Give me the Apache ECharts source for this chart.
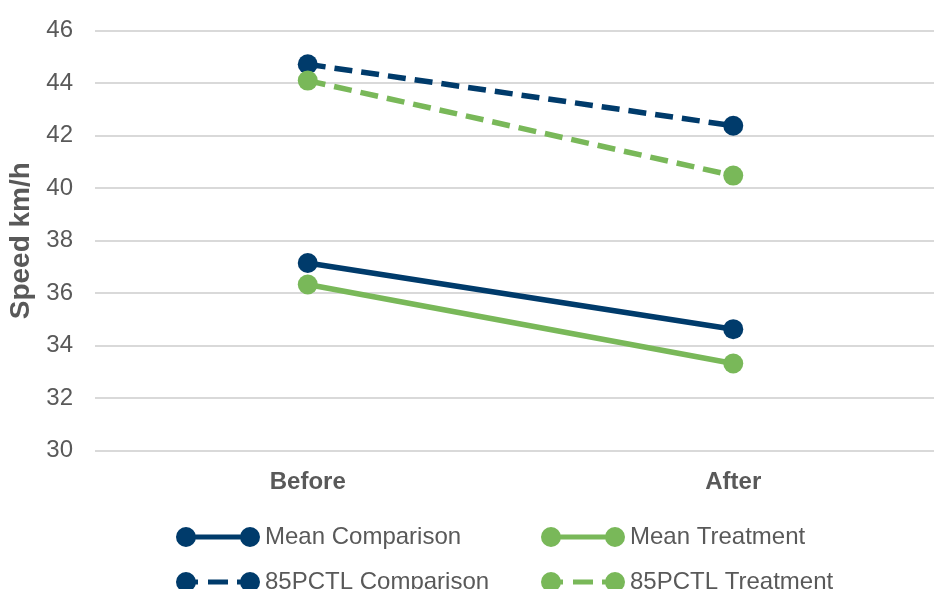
<!DOCTYPE html>
<html>
<head>
<meta charset="utf-8">
<script src="https://cdn.jsdelivr.net/npm/echarts@6/dist/echarts.min.js"></script>
<style>
  html, body { margin: 0; padding: 0; background: #ffffff; }
  #chart { width: 934px; height: 589px; }
</style>
</head>
<body>
<div id="chart"></div>
<script>
// Speed before/after, comparison vs treatment sites
const periods = ['Before', 'After'];
const meanComparison = [37.15, 34.63];
const meanTreatment = [36.33, 33.32];
const pctl85Comparison = [44.72, 42.38];
const pctl85Treatment = [44.1, 40.48];
const yTicks = { min: 30, max: 46, step: 2 };

const NAVY = '#003B6B';
const GREEN = '#79B859';
const FONT = 'Liberation Sans, Arial, sans-serif';
const TEXT = '#595959';

// Legend icons: marker at each end joined by a solid or dashed stroke
const circ = (cx) => `M${cx - 10},10 A10,10 0 1,1 ${cx + 10},10 A10,10 0 1,1 ${cx - 10},10 Z `;
const bar = (x0, x1) => `M${x0},7.5 L${x1},7.5 L${x1},12.5 L${x0},12.5 Z `;
const solidIcon = 'path://' + circ(10) + circ(74) + bar(10, 74);
const dashIcon = 'path://' + circ(10) + bar(10, 22) + bar(32, 52) + bar(61, 74) + circ(74);

function lineSeries(name, data, color, dashed) {
  return {
    name: name,
    type: 'line',
    data: data,
    symbol: 'circle',
    symbolSize: 20,
    itemStyle: { color: color, borderWidth: 0 },
    lineStyle: { color: color, width: 5.5, type: dashed ? [18, 9] : 'solid' },
    emphasis: { disabled: true },
    animation: false
  };
}

const legendCommon = {
  orient: 'vertical',
  top: 525,
  height: 80,
  itemWidth: 84,
  itemHeight: 20,
  itemGap: 21,
  padding: 0,
  textStyle: { fontFamily: FONT, fontSize: 24, color: TEXT, lineHeight: 20 },
  itemStyle: { borderWidth: 0 },
  selectedMode: false
};

const chart = echarts.init(document.getElementById('chart'), null, { renderer: 'canvas' });
chart.setOption({
  backgroundColor: '#ffffff',
  animation: false,
  grid: {
    left: 95, right: -12, top: 30.7, bottom: 138.3,
    containLabel: false,
    outerBoundsMode: 'none'
  },
  xAxis: {
    type: 'category',
    data: periods,
    boundaryGap: true,
    axisLine: { show: false },
    axisTick: { show: false },
    axisLabel: { fontFamily: FONT, fontSize: 24, fontWeight: 'bold', color: TEXT, margin: 20 }
  },
  yAxis: {
    type: 'value',
    min: yTicks.min,
    max: yTicks.max,
    interval: yTicks.step,
    name: 'Speed km/h',
    nameLocation: 'middle',
    nameRotate: 90,
    nameGap: 58,
    nameTextStyle: { fontFamily: FONT, fontSize: 28, fontWeight: 'bold', color: TEXT },
    axisLine: { show: false },
    axisTick: { show: false },
    axisLabel: { fontFamily: FONT, fontSize: 24, color: TEXT, margin: 22 },
    splitLine: { lineStyle: { color: '#D9D9D9', width: 2 } }
  },
  legend: [
    Object.assign({}, legendCommon, {
      left: 176,
      data: [
        { name: 'Mean Comparison', icon: solidIcon },
        { name: '85PCTL Comparison', icon: dashIcon }
      ]
    }),
    Object.assign({}, legendCommon, {
      left: 541,
      data: [
        { name: 'Mean Treatment', icon: solidIcon },
        { name: '85PCTL Treatment', icon: dashIcon }
      ]
    })
  ],
  series: [
    lineSeries('Mean Comparison', meanComparison, NAVY, false),
    lineSeries('Mean Treatment', meanTreatment, GREEN, false),
    lineSeries('85PCTL Comparison', pctl85Comparison, NAVY, true),
    lineSeries('85PCTL Treatment', pctl85Treatment, GREEN, true)
  ]
});
</script>
</body>
</html>
